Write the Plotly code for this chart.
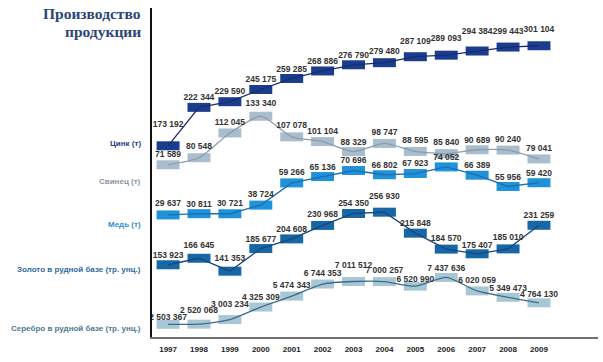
import plotly.graph_objects as go

years = [1997, 1998, 1999, 2000, 2001, 2002, 2003, 2004, 2005, 2006, 2007, 2008, 2009]
zinc = [173192, 222344, 229590, 245175, 259285, 268886, 276790, 279480, 287109, 289093, 294384, 299443, 301104]
lead = [71589, 80548, 112045, 133340, 107078, 101104, 88329, 98747, 88595, 85840, 90689, 90240, 79041]
copper = [29637, 30811, 30721, 38724, 59266, 65136, 70696, 66802, 67923, 74052, 66389, 55956, 59420]
gold = [153923, 166645, 141353, 185677, 204608, 230968, 254350, 256930, 215848, 184570, 175407, 185010, 231259]
silver = [2503367, 2520068, 3003234, 4325309, 5474343, 6744353, 7011512, 7000257, 6520990, 7437636, 6020059, 5349473, 4764130]

series_names = ["Цинк (т)", "Свинец (т)", "Медь (т)",
                "Золото в рудной базе (тр. унц.)", "Серебро в рудной базе (тр. унц.)"]
title_lines = ["Производство", "продукции"]

# style: gap (px) between each value label and its box
label_gap = {
    "zinc":   [22, 10, 11, 11, 10, 10, 10, 12, 16, 17, 20, 16, 17],
    "lead":   [11, 12, 11, 13, 12, 11, 10, 11, 11, 12, 10, 11, 11],
    "copper": [12, 10, 11, 11, 11, 10, 11, 10, 11, 10, 10, 10, 10],
    "gold":   [10, 13, 13, 10, 10, 11, 11, 16, 10, 11, 9, 12, 10],
    "silver": [7, 14, 16, 10, 11, 11, 17, 12, 7, 9, 11, 9, 9],
}

W, H = 603, 362
L, R, T, B = 152, 5, 8, 25
PH = H - T - B
LABEL_FONT = 8.5

styles = [
    dict(key="zinc", data=zinc, rect="#1b3d8f", line="#1a2d6a", label="#24408a", rng=[-71230, 349380], shape="linear", ly=143),
    dict(key="lead", data=lead, rect="#a9bdcc", line="#8a9cae", label="#8a96a4", rng=[-147370, 270940], shape="spline", ly=181),
    dict(key="copper", data=copper, rect="#1f92da", line="#1f6fae", label="#2f8fd0", rng=[-83270, 221020], shape="linear", ly=224),
    dict(key="gold", data=gold, rect="#1767a7", line="#17477c", label="#2f6a9f", rng=[12380, 656980], shape="linear", ly=269),
    dict(key="silver", data=silver, rect="#a8c7d4", line="#3e6b8a", label="#4d7893", rng=[1170700, 35790000], shape="spline", ly=328),
]

def fmt(v):
    return f"{v:,}".replace(",", " ")

fig = go.Figure()
for i, s in enumerate(styles):
    yref = "y" if i == 0 else f"y{i+1}"
    fig.add_trace(go.Scatter(
        x=years, y=s["data"], mode="markers", yaxis=yref, hoverinfo="skip",
        marker=dict(symbol="line-ew", size=16.4, line=dict(color=s["rect"], width=9)),
        showlegend=False))
    fig.add_trace(go.Scatter(
        x=years, y=s["data"], mode="lines", yaxis=yref, hoverinfo="skip",
        line=dict(color=s["line"], width=1.3, shape=s["shape"], smoothing=0.6),
        showlegend=False))
    gaps = label_gap[s["key"]]
    sizes = [max((g - (0.608 * LABEL_FONT + 1)) * 1.6, 0.5) for g in gaps]
    fig.add_trace(go.Scatter(
        x=years, y=s["data"], mode="markers+text", yaxis=yref, hoverinfo="skip",
        text=[fmt(v) for v in s["data"]], textposition="top center",
        marker=dict(size=sizes, opacity=0),
        textfont=dict(family="Liberation Sans, Arial, sans-serif", size=LABEL_FONT, color="#333333", weight="bold"),
        showlegend=False))
    fig.add_annotation(
        x=0, xref="paper", xanchor="right", xshift=-9,
        y=(H - B - s["ly"]) / PH, yref="paper", yanchor="middle",
        text=series_names[i], showarrow=False,
        font=dict(family="Liberation Sans, Arial, sans-serif", size=8, color=s["label"], weight="bold"))

for txt, py in zip(title_lines, [14, 31]):
    fig.add_annotation(
        x=0, xref="paper", xanchor="right", xshift=-10,
        y=(H - B - py) / PH, yref="paper", yanchor="middle",
        text=txt, showarrow=False, align="right", borderpad=0,
        font=dict(family="Liberation Serif, Times New Roman, serif", size=15.5, color="#2c4675", weight="bold"))

layout = dict(
    width=W, height=H,
    margin=dict(l=L, r=R, t=T, b=B),
    paper_bgcolor="white", plot_bgcolor="white",
    hovermode=False,
    xaxis=dict(range=[1996.48, 2010.91], tickvals=years, ticktext=[str(y) for y in years],
               showgrid=False, zeroline=False, showline=True, linecolor="#707070", linewidth=2,
               ticks="outside", ticklen=3, tickcolor="rgba(0,0,0,0)",
               tickfont=dict(family="Liberation Sans, Arial, sans-serif", size=8, color="#222222", weight="bold")),
    yaxis=dict(range=styles[0]["rng"], showgrid=False, zeroline=False, showticklabels=False,
               showline=True, linecolor="#111111", linewidth=2, ticks=""),
)
for i in range(1, 5):
    layout[f"yaxis{i+1}"] = dict(range=styles[i]["rng"], overlaying="y", visible=False,
                                 showgrid=False, zeroline=False)
fig.update_layout(**layout)

fig.write_html("out.html", config={"displayModeBar": False, "staticPlot": True},
               post_script="document.body.style.margin='0';document.body.style.overflow='hidden';")
